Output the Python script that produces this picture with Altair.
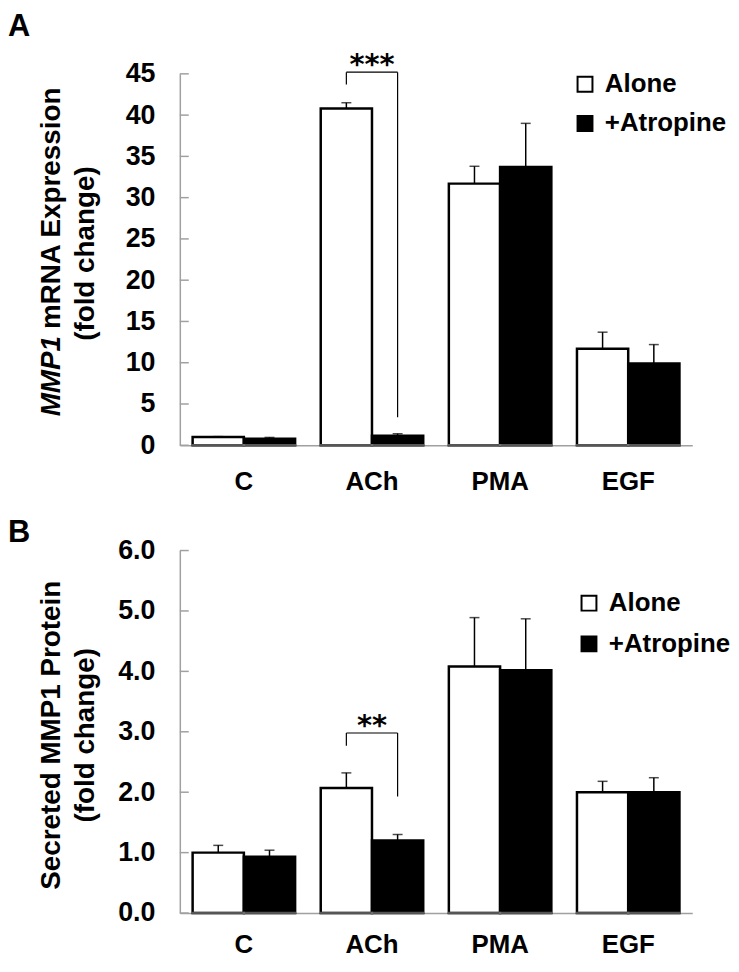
import altair as alt
import pandas as pd

FONT = "Liberation Sans"
STAR_FONT = "DejaVu Sans"

categories = ["C", "ACh", "PMA", "EGF"]
groups = ["Alone", "+Atropine"]

# Panel A: MMP1 mRNA expression (fold change)
a_alone = [1.0, 40.8, 31.7, 11.7]
a_alone_sem = [0.05, 0.7, 2.1, 2.0]
a_atro = [0.8, 1.15, 33.7, 9.9]
a_atro_sem = [0.15, 0.25, 5.3, 2.3]
a_ticks = [0, 5, 10, 15, 20, 25, 30, 35, 40, 45]

# Panel B: secreted MMP1 protein (fold change)
b_alone = [1.0, 2.07, 4.08, 2.0]
b_alone_sem = [0.12, 0.25, 0.81, 0.18]
b_atro = [0.93, 1.2, 4.02, 2.0]
b_atro_sem = [0.11, 0.10, 0.85, 0.24]
b_ticks = [0, 1, 2, 3, 4, 5, 6]

# significance brackets: [left foot, top, right foot], label
a_bracket = [43.7, 45.2, 3.4]
a_sig = "***"
b_bracket = [2.77, 2.98, 1.93]
b_sig = "**"

a_title_italic = "MMP1"
a_title_rest = "mRNA Expression"
b_title_1 = "Secreted MMP1 Protein"
title_2 = "(fold change)"


def long_df(alone, alone_sem, atro, atro_sem):
    rows = []
    for i, c in enumerate(categories):
        rows.append({"cat": c, "grp": "Alone", "val": alone[i], "hi": alone[i] + alone_sem[i], "zero": 0})
        rows.append({"cat": c, "grp": "+Atropine", "val": atro[i], "hi": atro[i] + atro_sem[i], "zero": 0})
    return pd.DataFrame(rows)


def panel(df, ticks, ymax, fmt, plot_h, bracket, sig, label, label_y, legend_xy, row_pad,
          xlab_pad, title_parts):
    xscale = alt.Scale(domain=categories, paddingInner=0.2, paddingOuter=0.1)
    yscale = alt.Scale(domain=[0, ymax], nice=False, zero=True)
    xaxis = alt.Axis(labelAngle=0, labelPadding=xlab_pad, ticks=False, domainColor="#a0a0a0", domainWidth=1.5,
                     labelFont=FONT, labelFontSize=26, labelFontWeight="bold", labelColor="black", title=None)
    yaxis = alt.Axis(values=ticks, format=fmt, grid=False, ticks=False, domainColor="#a0a0a0", domainWidth=1.5,
                     labelFont=FONT, labelFontSize=27, labelFontWeight="bold", labelColor="black",
                     labelPadding=25, title=None)
    X = alt.X("cat:N", sort=categories, scale=xscale, axis=xaxis)
    XO = alt.XOffset("grp:N", sort=groups, scale=alt.Scale(domain=groups))

    base = alt.Chart(df)
    bars = base.mark_bar(stroke="black", strokeWidth=2.5).encode(
        x=X, xOffset=XO,
        y=alt.Y("val:Q", scale=yscale, axis=yaxis),
        fill=alt.Fill("grp:N", sort=groups,
                      scale=alt.Scale(domain=groups, range=["white", "black"]),
                      legend=alt.Legend(title=None, orient="none", legendX=legend_xy[0], legendY=legend_xy[1],
                                        padding=0, symbolType="square", symbolSize=225,
                                        symbolStrokeColor="black", symbolStrokeWidth=2,
                                        labelFont=FONT, labelFontSize=26,
                                        labelFontWeight="bold", labelColor="black", rowPadding=row_pad,
                                        labelOffset=7, labelLimit=300)),
    )
    base_line = base.mark_tick(color="#7a7a7a", thickness=2.5, size=54).encode(
        x=X, xOffset=XO, y=alt.Y("zero:Q", scale=yscale))
    err = base.mark_rule(color="black", strokeWidth=1.5).encode(
        x=X, xOffset=XO, y=alt.Y("val:Q", scale=yscale), y2="hi:Q")
    caps = base.mark_tick(color="black", thickness=1.5, size=10).encode(
        x=X, xOffset=XO, y=alt.Y("hi:Q", scale=yscale))

    tdf = pd.DataFrame({"t": ticks})
    inticks = alt.Chart(tdf).mark_rule(color="#a0a0a0", strokeWidth=1.5).encode(
        y=alt.Y("t:Q", scale=yscale), x=alt.value(0), x2=alt.value(9))

    bdf = pd.DataFrame({"cat": ["ACh"], "l": [bracket[0]], "top": [bracket[1]], "r": [bracket[2]], "s": [sig]})
    bb = alt.Chart(bdf)
    left_v = bb.mark_rule(color="black", strokeWidth=1.2).encode(
        x=alt.X("cat:N", scale=xscale, bandPosition=0.25), y=alt.Y("l:Q", scale=yscale), y2="top:Q")
    right_v = bb.mark_rule(color="black", strokeWidth=1.2).encode(
        x=alt.X("cat:N", scale=xscale, bandPosition=0.75), y=alt.Y("r:Q", scale=yscale), y2="top:Q")
    horiz = bb.mark_rule(color="black", strokeWidth=1.2).encode(
        x=alt.X("cat:N", scale=xscale, bandPosition=0.25), x2=alt.X2("cat:N", bandPosition=0.75),
        y=alt.Y("top:Q", scale=yscale))
    stars = bb.mark_text(font=STAR_FONT, fontSize=29, fontWeight="bold", baseline="alphabetic", align="center",
                         dy=2, color="black").encode(
        x=alt.X("cat:N", scale=xscale), y=alt.Y("top:Q", scale=yscale), text="s:N")

    ldf = pd.DataFrame({"t": [label]})
    plabel = alt.Chart(ldf).mark_text(font=FONT, fontSize=31, fontWeight="bold", align="left", baseline="top",
                                      color="black").encode(
        text="t:N", x=alt.value(-173), y=alt.value(label_y))

    layers = [inticks, bars, base_line, err, caps, left_v, right_v, horiz, stars, plabel]
    layers += title_parts
    return alt.layer(*layers).properties(width=516, height=plot_h)


def title_text(text, x, y, align, italic=False):
    d = pd.DataFrame({"t": [text]})
    return alt.Chart(d).mark_text(font=FONT, fontSize=28, fontWeight="bold",
                                  fontStyle="italic" if italic else "normal",
                                  angle=270, align=align, baseline="middle", color="black").encode(
        text="t:N", x=alt.value(x), y=alt.value(y))


a_titles = [
    title_text(a_title_italic, -129, 264, "right", italic=True),
    title_text(a_title_rest, -129, 257, "left"),
    title_text(title_2, -94, 181, "center"),
]
b_titles = [
    title_text(b_title_1, -129, 186, "center"),
    title_text(title_2, -94, 186, "center"),
]

pA = panel(long_df(a_alone, a_alone_sem, a_atro, a_atro_sem), a_ticks, 45, "d", 374,
           a_bracket, a_sig, "A", -62, (395, -2.5), 13.5, 24, a_titles)
pB = panel(long_df(b_alone, b_alone_sem, b_atro, b_atro_sem), b_ticks, 6, ".1f", 365,
           b_bracket, b_sig, "B", -33, (399, 40), 15, 19, b_titles)

chart = alt.vconcat(pA, pB, spacing=22).resolve_scale(fill="independent").resolve_legend(
    fill="independent").properties(padding=0).configure_view(stroke=None)

chart.save("out.html", embed_options={"renderer": "svg", "actions": False})
